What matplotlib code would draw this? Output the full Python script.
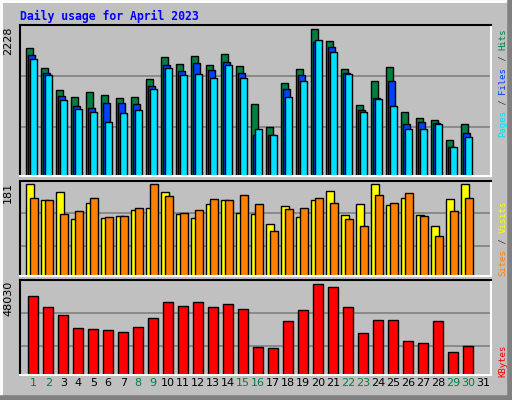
import matplotlib
matplotlib.use("Agg")
import matplotlib.pyplot as plt
from matplotlib.lines import Line2D

days = list(range(1, 31))
all_days = list(range(1, 32))
weekend_days = [1, 2, 8, 9, 15, 16, 22, 23, 29, 30]
hits = [1943, 1641, 1307, 1201, 1277, 1231, 1185, 1201, 1474, 1803, 1697, 1818, 1681, 1848, 1666, 1089, 739, 1408, 1621, 2228, 2045, 1621, 1074, 1438, 1651, 976, 886, 855, 552, 795]
files = [1838, 1565, 1215, 1058, 1033, 1109, 1109, 1094, 1363, 1681, 1590, 1712, 1605, 1727, 1565, 628, 623, 1317, 1530, 2031, 1955, 1565, 1002, 1180, 1438, 784, 815, 800, 435, 648]
pages = [1777, 1535, 1155, 1018, 967, 816, 952, 998, 1317, 1636, 1535, 1550, 1484, 1681, 1484, 709, 618, 1195, 1438, 2061, 1879, 1550, 967, 1165, 1058, 714, 714, 790, 435, 587]
sites = [181, 150, 165, 113, 144, 115, 119, 130, 134, 165, 122, 115, 142, 150, 124, 122, 102, 138, 117, 150, 168, 120, 142, 181, 140, 154, 120, 98, 152, 181]
visits = [153, 150, 122, 128, 153, 116, 119, 134, 181, 157, 124, 130, 152, 150, 159, 142, 90, 132, 134, 154, 144, 112, 98, 159, 144, 164, 119, 79, 128, 153]
kbytes = [41850, 36030, 31790, 24900, 24370, 23840, 22780, 25430, 30200, 38670, 36550, 38670, 36030, 37620, 34970, 14830, 14300, 28610, 34440, 48030, 46440, 36030, 22250, 29140, 29140, 17830, 16770, 28610, 12180, 15360]
y_max_labels = ["2228", "181", "48030"]

W, H = 512, 400
fig = plt.figure(figsize=(W / 100, H / 100), dpi=100)
fig.patch.set_facecolor("#C0C0C0")
fig.add_artist(Line2D([0, 1], [1 - 1 / H, 1 - 1 / H], color="white", lw=2))
fig.add_artist(Line2D([1 / W, 1 / W], [0, 1], color="white", lw=2))
fig.add_artist(Line2D([0, 1], [2.5 / H, 2.5 / H], color="#808080", lw=4))
fig.add_artist(Line2D([1 - 2.5 / W, 1 - 2.5 / W], [0, 1], color="#808080", lw=4))

def ax_px(x0, y0, x1, y1):
    return fig.add_axes([x0 / W, 1 - y1 / H, (x1 - x0) / W, (y1 - y0) / H])

XL = (0.62, 32.02)
mono = "DejaVu Sans Mono"

def style(ax, ylim, grids):
    ax.set_facecolor("#C0C0C0")
    ax.set_xlim(*XL)
    ax.set_ylim(0, ylim)
    ax.set_xticks([]); ax.set_yticks([])
    for g in grids:
        ax.axhline(g, color="#808080", lw=1.2, zorder=0)
    for s in ["left", "top"]:
        ax.spines[s].set_color("black")
    for s in ["right", "bottom"]:
        ax.spines[s].set_color("white")
    for s in ax.spines.values():
        s.set_linewidth(1.5)

kw = dict(edgecolor="black", linewidth=1, align="edge")

ax1 = ax_px(20, 25, 491, 176)
style(ax1, 2228 * 151 / 146.7, [740, 1514])
ax1.bar(days, hits, width=0.47, color="#008040", **kw)
ax1.bar([d + 2 / 15 for d in days], files, width=0.47, color="#0040FF", **kw)
ax1.bar([d + 4 / 15 for d in days], pages, width=0.47, color="#00E0FF", **kw)

ax2 = ax_px(20, 180.7, 491, 276.3)
style(ax2, 188, [59, 124])
ax2.bar(days, sites, width=0.53, color="#FFFF00", **kw)
ax2.bar([d + 4 / 15 for d in days], visits, width=0.53, color="#FF8000", **kw)

ax3 = ax_px(20, 280.3, 491, 375)
style(ax3, 50150, [15200, 32670])
ax3.bar([d + 2 / 15 for d in days], kbytes, width=0.68, color="#FF0000", **kw)
for d in all_days:
    ax3.text(d + 0.5, -0.03, str(d), transform=ax3.get_xaxis_transform(),
             ha="center", va="top", fontsize=8,
             color="#008040" if d in weekend_days else "black")

for ax, lab in zip([ax1, ax2, ax3], y_max_labels):
    ax.text(-7 / 471, 0.99, lab, transform=ax.transAxes,
            rotation=90, ha="right", va="top", fontsize=8)

def side(parts, y_bottom, fs=6.5):
    y = y_bottom
    step = 0.602 * fs * 100 / 72
    for txt, col in parts:
        fig.text(503 / W, 1 - y / H, txt, rotation=90, ha="center", va="bottom",
                 fontsize=fs, family=mono, color=col)
        y -= step * len(txt)

side([("Pages", "#00E0FF"), (" / ", "#404040"), ("Files", "#0040FF"), (" / ", "#404040"), ("Hits", "#008040")], 137)
side([("Sites", "#FF8000"), (" / ", "#404040"), ("Visits", "#FFFF00")], 276)
side([("KBytes", "#FF0000")], 377)

fig.text(20 / W, 1 - 16 / H, "Daily usage for April 2023", ha="left", va="center",
         fontsize=8.3, family=mono, weight="bold", color="#0000FF")

fig.savefig("out.png", dpi=100, facecolor=fig.get_facecolor())
